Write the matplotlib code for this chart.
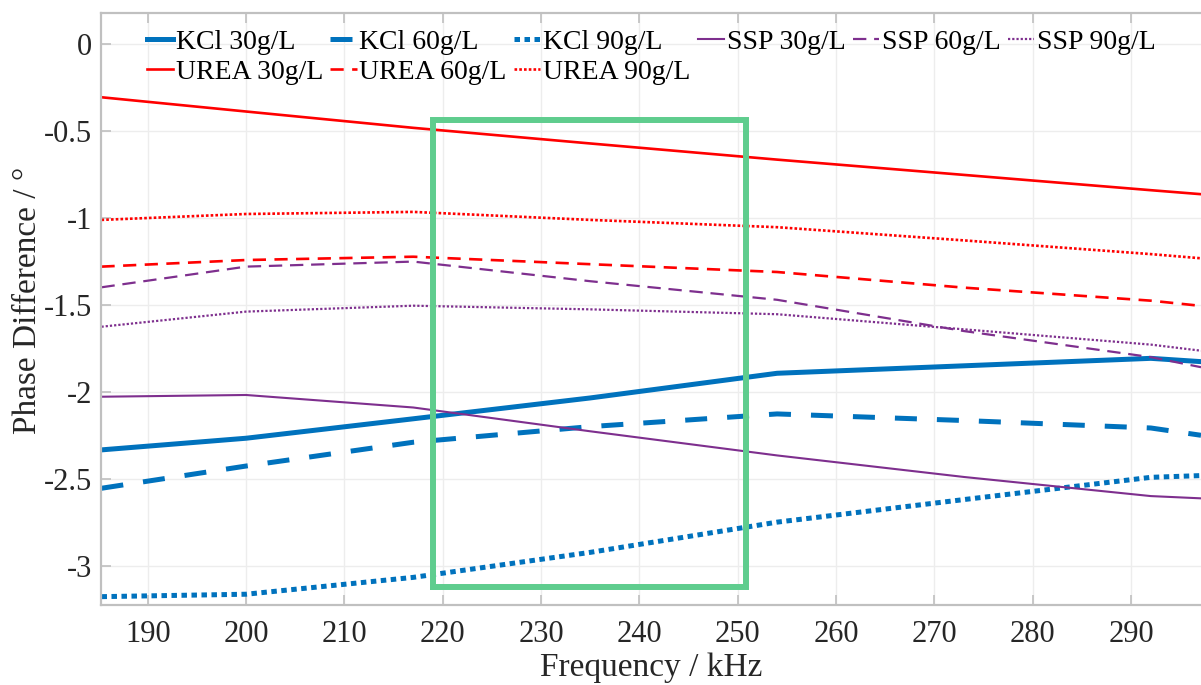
import numpy as np
from matplotlib import pyplot as plt
from matplotlib.ticker import FuncFormatter

plt.rcParams['font.family'] = ['Liberation Serif', 'DejaVu Serif']

# frequency points (kHz)
freq = [185.3, 200, 217, 235, 254, 273, 292, 297.1]

kcl_30 = [-2.334, -2.267, -2.155, -2.035, -1.893, -1.850, -1.807, -1.826]
kcl_60 = [-2.555, -2.427, -2.290, -2.200, -2.127, -2.165, -2.208, -2.250]
kcl_90 = [-3.179, -3.165, -3.068, -2.924, -2.750, -2.620, -2.492, -2.482]
ssp_30 = [-2.028, -2.018, -2.090, -2.227, -2.366, -2.490, -2.600, -2.613]
ssp_60 = [-1.398, -1.279, -1.250, -1.363, -1.470, -1.650, -1.800, -1.858]
ssp_90 = [-1.625, -1.538, -1.504, -1.525, -1.553, -1.640, -1.728, -1.763]
urea_30 = [-0.304, -0.386, -0.480, -0.570, -0.663, -0.751, -0.839, -0.862]
urea_60 = [-1.279, -1.241, -1.222, -1.265, -1.310, -1.400, -1.475, -1.505]
urea_90 = [-1.010, -0.976, -0.964, -1.010, -1.052, -1.128, -1.207, -1.231]

# highlighted frequency window
box_f = [219.0, 250.8]
box_phase = [-3.121, -0.435]

blue = '#0072BD'
red = '#FF0000'
purple = '#7E2F8E'

fig = plt.figure(figsize=(12.01, 6.85), dpi=100)
ax = fig.add_axes([0.0845, 0.1168, 0.9155, 0.8647])

h_k30, = ax.plot(freq, kcl_30, color=blue, lw=3.6, ls='-', label='KCl 30g/L')
h_k60, = ax.plot(freq, kcl_60, color=blue, lw=3.6, ls=(0, (4.4, 4.0)), label='KCl 60g/L')
h_k90, = ax.plot(freq, kcl_90, color=blue, lw=3.6, ls=(0, (1.1, 0.9)), label='KCl 90g/L')
h_s30, = ax.plot(freq, ssp_30, color=purple, lw=1.5, ls='-', label='SSP 30g/L')
h_s60, = ax.plot(freq, ssp_60, color=purple, lw=1.6, ls=(0, (6, 3.5)), label='SSP 60g/L')
h_s90, = ax.plot(freq, ssp_90, color=purple, lw=1.6, ls=(0, (1, 0.9)), label='SSP 90g/L')
h_u30, = ax.plot(freq, urea_30, color=red, lw=1.9, ls='-', label='UREA 30g/L')
h_u60, = ax.plot(freq, urea_60, color=red, lw=1.9, ls=(0, (5, 3.2)), label='UREA 60g/L')
h_u90, = ax.plot(freq, urea_90, color=red, lw=1.9, ls=(0, (1, 0.8)), label='UREA 90g/L')

ax.plot([box_f[0], box_f[1], box_f[1], box_f[0], box_f[0]],
        [box_phase[0], box_phase[0], box_phase[1], box_phase[1], box_phase[0]],
        color='#5fcd8e', lw=4.3, solid_joinstyle='miter')

ax.set_xlim(185.3, 297.1)
ax.set_ylim(-3.227, 0.183)
ax.set_xticks(np.arange(190, 300, 10))
ax.set_yticks([0, -0.5, -1, -1.5, -2, -2.5, -3])
ax.yaxis.set_major_formatter(FuncFormatter(lambda v, p: '%g' % v))

ax.grid(True, color='#ededed', lw=1.0)
ax.set_axisbelow(True)
for side in ['left', 'bottom', 'top']:
    ax.spines[side].set_color('#c0c0c0')
    ax.spines[side].set_linewidth(1.6)
ax.spines['right'].set_visible(False)
ax.tick_params(direction='in', length=7, width=1.2, color='#c0c0c0',
               labelsize=22, labelcolor='#262626', top=True)
ax.tick_params(axis='x', pad=11)
ax.tick_params(axis='y', pad=7)

ax.set_xlabel('Frequency / kHz', fontsize=24, color='#262626')
ax.set_ylabel('Phase Difference / °', fontsize=24, color='#262626')
ax.xaxis.set_label_coords(0.5, -0.080)
ax.yaxis.set_label_coords(-0.053, 0.515)

handles = [h_k30, h_u30, h_k60, h_u60, h_k90, h_u90, h_s30, h_s60, h_s90]
ax.legend(handles=handles, labels=[h.get_label() for h in handles],
          ncol=6, loc='upper left', bbox_to_anchor=(0.031, 0.99),
          frameon=False, fontsize=20, handlelength=0.94, handletextpad=0.1,
          columnspacing=0.27, labelspacing=0.15, borderaxespad=0)

fig.savefig('out.png', dpi=100)
